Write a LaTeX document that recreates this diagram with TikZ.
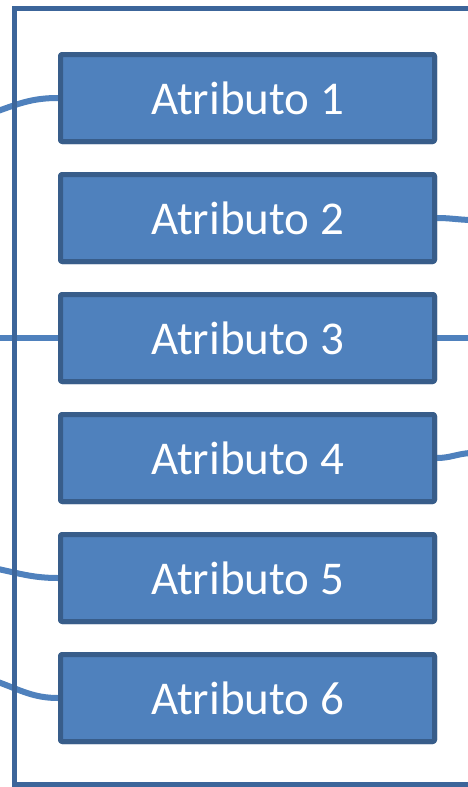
\documentclass[tikz,border=0pt]{standalone}
\usepackage{fontspec}
\setmainfont{Carlito}
\definecolor{boxfill}{HTML}{4F81BD}
\definecolor{boxline}{HTML}{385D8A}
\definecolor{frameline}{HTML}{3C659A}
\begin{document}
\begin{tikzpicture}[x=1pt,y=-1pt,
  attr/.style={draw=boxline, line width=5pt, fill=boxfill, rounded corners=2pt,
    minimum width=374pt, minimum height=87pt, inner sep=0pt, text=white,
    font=\fontsize{47}{52}\selectfont},
  conn/.style={draw=boxfill, line width=6pt},
  connshadow/.style={draw=black!15, line width=5pt}]
\useasboundingbox (0,0) rectangle (468,787);
\fill[white] (0,0) rectangle (468,787);
% frame
\draw[frameline, line width=5pt] (470,8) -- (14.5,8) -- (14.5,784) -- (470,784);
% coordinates (free ends)
\coordinate (l1) at (-2,111);
\coordinate (l3) at (-2,338);
\coordinate (l5) at (-2,569);
\coordinate (l6) at (-2,682);
\coordinate (r2) at (470,220);
\coordinate (r3) at (470,338);
\coordinate (r4) at (470,453);
% boxes
\foreach \i in {1,...,6}{
  \node[attr] (b\i) at (247.5,{98+120*(\i-1)}) {Atributo \i};
}
% shadows of connectors
\begin{scope}[yshift=-3pt]
\draw[connshadow] (b1.west) to[out=180,in=20] (l1);
\draw[connshadow] (b3.west) -- (l3);
\draw[connshadow] (b5.west) to[out=180,in=-12] (l5);
\draw[connshadow] (b6.west) to[out=180,in=-20] (l6);
\draw[connshadow] (b2.east) to[out=0,in=178] (r2);
\draw[connshadow] (b3.east) -- (r3);
\draw[connshadow] (b4.east) to[out=0,in=-176] (r4);
\end{scope}
% connectors
\draw[conn] (b1.west) to[out=180,in=20] (l1);
\draw[conn] (b3.west) -- (l3);
\draw[conn] (b5.west) to[out=180,in=-12] (l5);
\draw[conn] (b6.west) to[out=180,in=-20] (l6);
\draw[conn] (b2.east) to[out=0,in=178] (r2);
\draw[conn] (b3.east) -- (r3);
\draw[conn] (b4.east) to[out=0,in=-176] (r4);
% frame left line over connectors
\draw[frameline, line width=5pt] (14.5,8) -- (14.5,784);
% boxes above connectors
\foreach \i in {1,...,6}{
  \node[attr] at (b\i) {Atributo \i};
}
\end{tikzpicture}
\end{document}
